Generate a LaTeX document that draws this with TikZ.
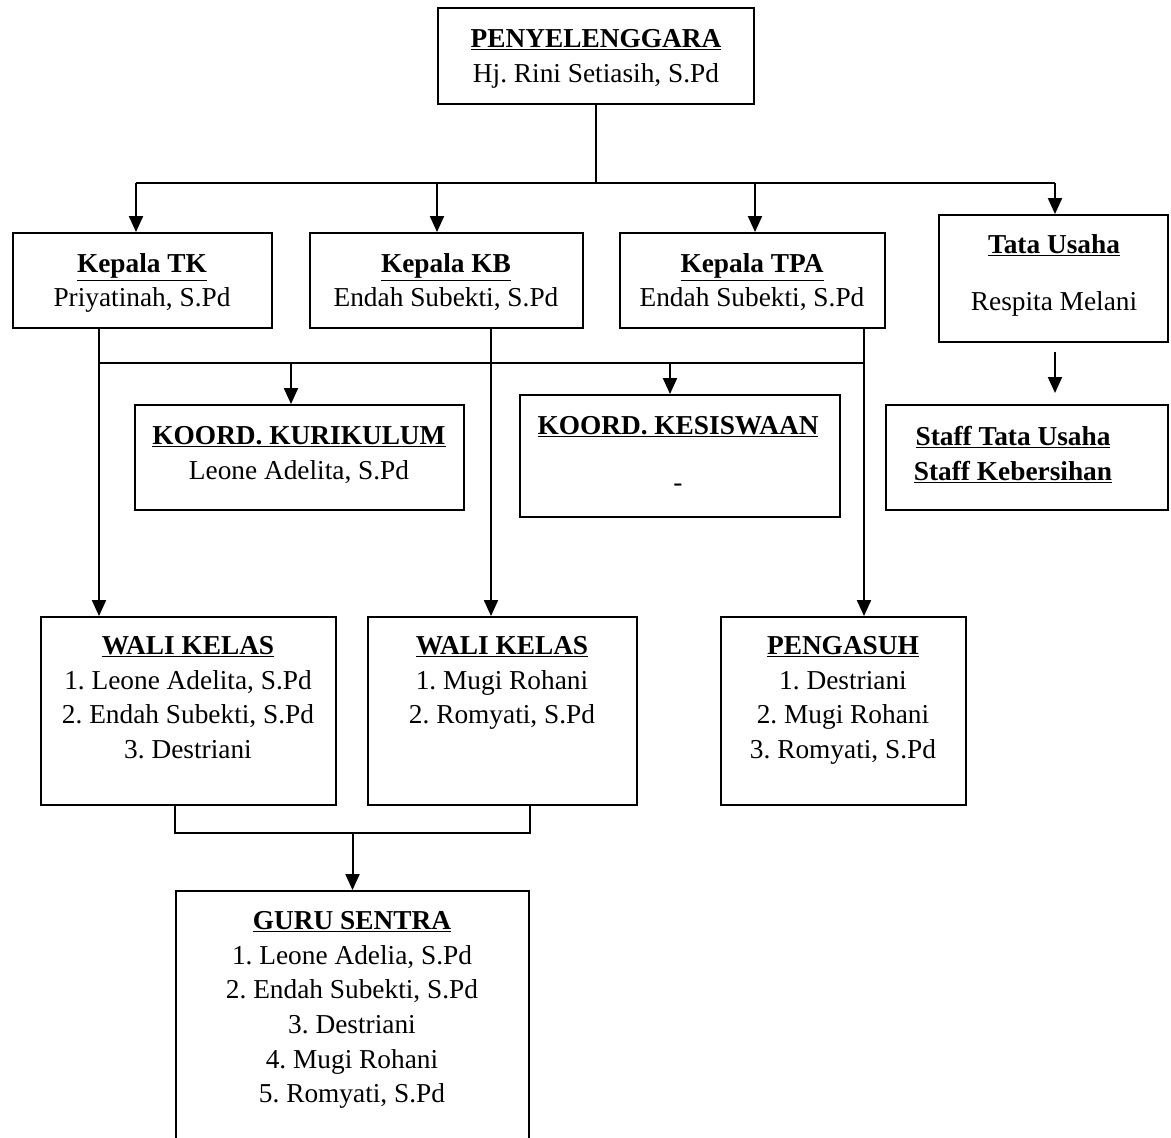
\documentclass[tikz,border=0pt]{standalone}
\usepackage{fontspec}
\setmainfont{Liberation Serif}
\usetikzlibrary{arrows.meta,fit}
\frenchspacing

\tikzset{
  orgbox/.style={draw, line width=1.4pt, inner sep=0pt},
  orgtext/.style={anchor=north, inner sep=0pt, align=center, font=\fontsize{20.5}{26}\selectfont},
  conn/.style={line width=1.5pt},
  arr/.style={conn, -{Triangle[width=10.5pt,length=12pt]}},
}
\newcommand{\headline}[1]{\underline{\textbf{#1}}}

\begin{document}
\begin{tikzpicture}[x=0.75pt,y=0.75pt,yscale=-1,xscale=1]
            \useasboundingbox (0,0) rectangle (1171,1138);
            \clip (0,0) rectangle (1171,1138);

            % Penyelenggara
            \node[orgbox, fit={(438,8) (754,104)}] (peny) {};
            \draw (596,29) node[orgtext] {\headline{PENYELENGGARA}\\Hj. Rini Setiasih, S.Pd};

            % Kepala TK, KB, TPA and Tata Usaha
            \node[orgbox, fit={(13,233) (272,328)}] (kepalatk) {};
            \node[orgbox, fit={(310,233) (583,328)}] (kepalakb) {};
            \node[orgbox, fit={(620,233) (885,328)}] (kepalatpa) {};
            \node[orgbox, fit={(939,215) (1168,342)}] (tatausaha) {};
            \draw (142,253) node[orgtext] {\headline{Kepala TK}\\Priyatinah, S.Pd};
            \draw (446,253) node[orgtext] {\headline{Kepala KB}\\Endah Subekti, S.Pd};
            \draw (752,253) node[orgtext] {\headline{Kepala TPA}\\Endah Subekti, S.Pd};
            \draw (1054,234) node[orgtext] {\headline{Tata Usaha}\\[17pt]Respita Melani};

            % Koordinator and staff
            \node[orgbox, fit={(135,405) (464,510)}] (koordkur) {};
            \node[orgbox, fit={(520,395) (840,517)}] (koordsis) {};
            \node[orgbox, fit={(886,405) (1168,510)}] (staff) {};
            \draw (299,426) node[orgtext] {\headline{KOORD. KURIKULUM}\\Leone Adelita, S.Pd};
            \draw (678,416) node[orgtext] {\headline{KOORD. KESISWAAN}\\[17pt]-};
            \draw (1013,426) node[orgtext] {\headline{Staff Tata Usaha}\\\headline{Staff Kebersihan}};

            % Wali kelas and pengasuh
            \node[orgbox, fit={(41,617) (336,805)}] (wali1) {};
            \node[orgbox, fit={(368,617) (637,805)}] (wali2) {};
            \node[orgbox, fit={(721,617) (966,805)}] (pengasuh) {};
            \draw (188,636) node[orgtext] {\headline{WALI KELAS}\\1. Leone Adelita, S.Pd\\2. Endah Subekti, S.Pd\\3. Destriani};
            \draw (502,636) node[orgtext] {\headline{WALI KELAS}\\1. Mugi Rohani\\2. Romyati, S.Pd};
            \draw (843,636) node[orgtext] {\headline{PENGASUH}\\1. Destriani\\2. Mugi Rohani\\3. Romyati, S.Pd};

            % Guru sentra (runs past the page)
            \node[orgbox, fit={(176,891) (529,1160)}] (guru) {};
            \draw (352,911) node[orgtext] {\headline{GURU SENTRA}\\1. Leone Adelia, S.Pd\\2. Endah Subekti, S.Pd\\3. Destriani\\4. Mugi Rohani\\5. Romyati, S.Pd};

            % Top bus
            \coordinate (topbus) at (596,183);
            \draw[conn] (peny.south) -- (topbus);
            \draw[conn] (136,183) -- (1055,183);
            \foreach \x/\n in {136/kepalatk, 437/kepalakb, 755/kepalatpa, 1055/tatausaha}
              \draw[arr] (\x,183) -- (\x,183 |- \n.north);
            \draw[arr] (1055,352) -- (1055,393);

            % Drops to wali kelas and pengasuh
            \draw[arr] (99,0 |- kepalatk.south) -- (99,0 |- wali1.north);
            \draw[arr] (491,0 |- kepalakb.south) -- (491,0 |- wali2.north);
            \draw[arr] (864,0 |- kepalatpa.south) -- (864,0 |- pengasuh.north);

            % Middle bus to koordinator
            \draw[conn] (99,363) -- (864,363);
            \draw[arr] (291,363) -- (291,363 |- koordkur.north);
            \draw[arr] (670,363) -- (670,363 |- koordsis.north);

            % Wali kelas to guru sentra
            \coordinate (gurubus) at (352.5,833);
            \draw[conn] (wali1.south -| guru.west) |- (gurubus) -| (wali2.south -| guru.east);
            \draw[arr] (gurubus) -- (guru.north);

            \end{tikzpicture}
\end{document}
